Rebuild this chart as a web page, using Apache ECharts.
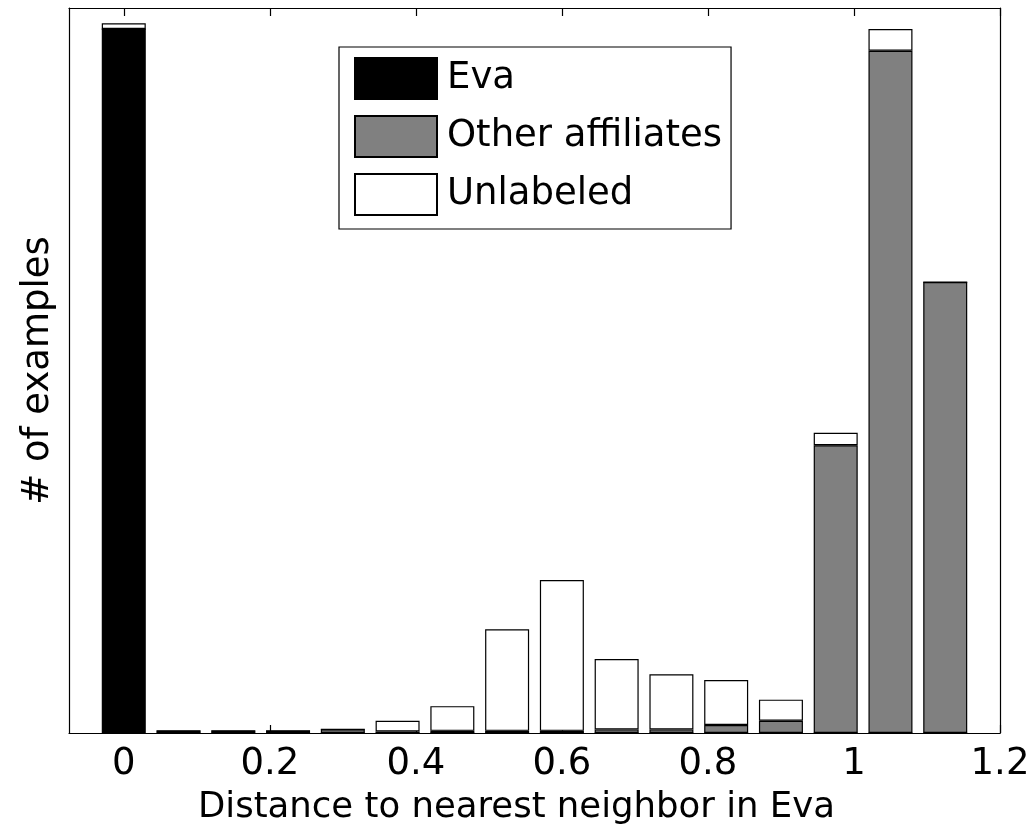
<!DOCTYPE html>
<html>
<head>
<meta charset="utf-8">
<script src="https://cdn.jsdelivr.net/npm/echarts@6/dist/echarts.min.js"></script>
<style>
html,body{margin:0;padding:0;background:#fff;}
#chart{width:1035px;height:832px;}
</style>
</head>
<body>
<div id="chart"></div>
<script>
// bin centers (distance)
const bins = [0, 0.075, 0.15, 0.225, 0.3, 0.375, 0.45, 0.525, 0.6, 0.675, 0.75, 0.825, 0.9, 0.975, 1.05, 1.125];
// counts (arbitrary units)
const eva       = [971, 0, 0, 0, 0, 0, 0, 0, 0, 0, 0, 0, 0, 0, 0, 0];
const other     = [0, 3, 3, 3, 5, 2, 3, 3, 3, 5, 5, 11, 17, 397, 941, 622];
const unlabeled = [8, 0, 0, 0, 0, 15, 34, 140, 208, 97, 76, 62, 29, 17, 30, 0];
const xTicks = [0, 0.2, 0.4, 0.6, 0.8, 1, 1.2];
const seriesNames = ['Eva', 'Other affiliates', 'Unlabeled'];
const xMin = -0.075, xMax = 1.2;

const FONT = "'DejaVu Sans', 'Liberation Sans', Arial, sans-serif";
// category slots: one empty slot at each end so slot positions line up with the value axis
const cats = [String(xMin)].concat(bins.map(String), [String(xMax)]);
const pad = arr => ['-'].concat(arr, ['-']);

const chart = echarts.init(document.getElementById('chart'), null, {renderer: 'canvas'});
const barStyle = (color) => ({color: color, borderColor: '#000', borderWidth: 1.2});
const lineStyle = {color: '#000', width: 1.2};

const option = {
  backgroundColor: '#fff',
  animation: false,
  grid: {left: 69, right: 35, top: 8, bottom: 99, containLabel: false},
  legend: {
    data: seriesNames,
    orient: 'vertical',
    left: 339,
    top: 47,
    icon: 'rect',
    itemWidth: 82,
    itemHeight: 41,
    itemGap: 15,
    padding: [10, 9, 13, 15],
    borderColor: '#000',
    borderWidth: 1.2,
    backgroundColor: '#fff',
    selectedMode: false,
    textStyle: {fontFamily: FONT, fontSize: 37, color: '#000', padding: [0, 0, 0, 5]}
  },
  xAxis: [{
    type: 'category',
    data: cats,
    boundaryGap: false,
    show: false
  }, {
    type: 'value',
    min: xMin,
    max: xMax,
    position: 'bottom',
    axisLine: {show: true, onZero: false, lineStyle: lineStyle},
    axisTick: {show: true, inside: true, length: 8, customValues: xTicks, lineStyle: lineStyle},
    axisLabel: {show: true, customValues: xTicks, fontFamily: FONT, fontSize: 37, color: '#000', margin: 13},
    splitLine: {show: false},
    name: 'Distance to nearest neighbor in Eva',
    nameLocation: 'middle',
    nameGap: 57,
    nameTextStyle: {fontFamily: FONT, fontSize: 35.5, color: '#000', padding: [0, 36, 0, 0]}
  }, {
    type: 'value',
    min: xMin,
    max: xMax,
    position: 'top',
    axisLine: {show: true, onZero: false, lineStyle: lineStyle},
    axisTick: {show: true, inside: true, length: 8, customValues: xTicks, lineStyle: lineStyle},
    axisLabel: {show: false},
    splitLine: {show: false}
  }],
  yAxis: [{
    type: 'value',
    min: 0,
    max: 1000,
    position: 'left',
    axisLine: {show: true, onZero: false, lineStyle: lineStyle},
    axisTick: {show: false},
    axisLabel: {show: false},
    splitLine: {show: false},
    name: '# of examples',
    nameLocation: 'middle',
    nameGap: 12,
    nameRotate: 90,
    nameTextStyle: {fontFamily: FONT, fontSize: 37, color: '#000'}
  }, {
    type: 'value',
    min: 0,
    max: 1000,
    position: 'right',
    axisLine: {show: true, onZero: false, lineStyle: lineStyle},
    axisTick: {show: false},
    axisLabel: {show: false},
    splitLine: {show: false}
  }],
  series: [
    {name: seriesNames[0], type: 'bar', stack: 'all', barWidth: 44, xAxisIndex: 0, yAxisIndex: 0, data: pad(eva), itemStyle: barStyle('#000')},
    {name: seriesNames[1], type: 'bar', stack: 'all', barWidth: 44, xAxisIndex: 0, yAxisIndex: 0, data: pad(other), itemStyle: barStyle('#808080')},
    {name: seriesNames[2], type: 'bar', stack: 'all', barWidth: 44, xAxisIndex: 0, yAxisIndex: 0, data: pad(unlabeled), itemStyle: barStyle('#fff')}
  ]
};
chart.setOption(option);
</script>
</body>
</html>
